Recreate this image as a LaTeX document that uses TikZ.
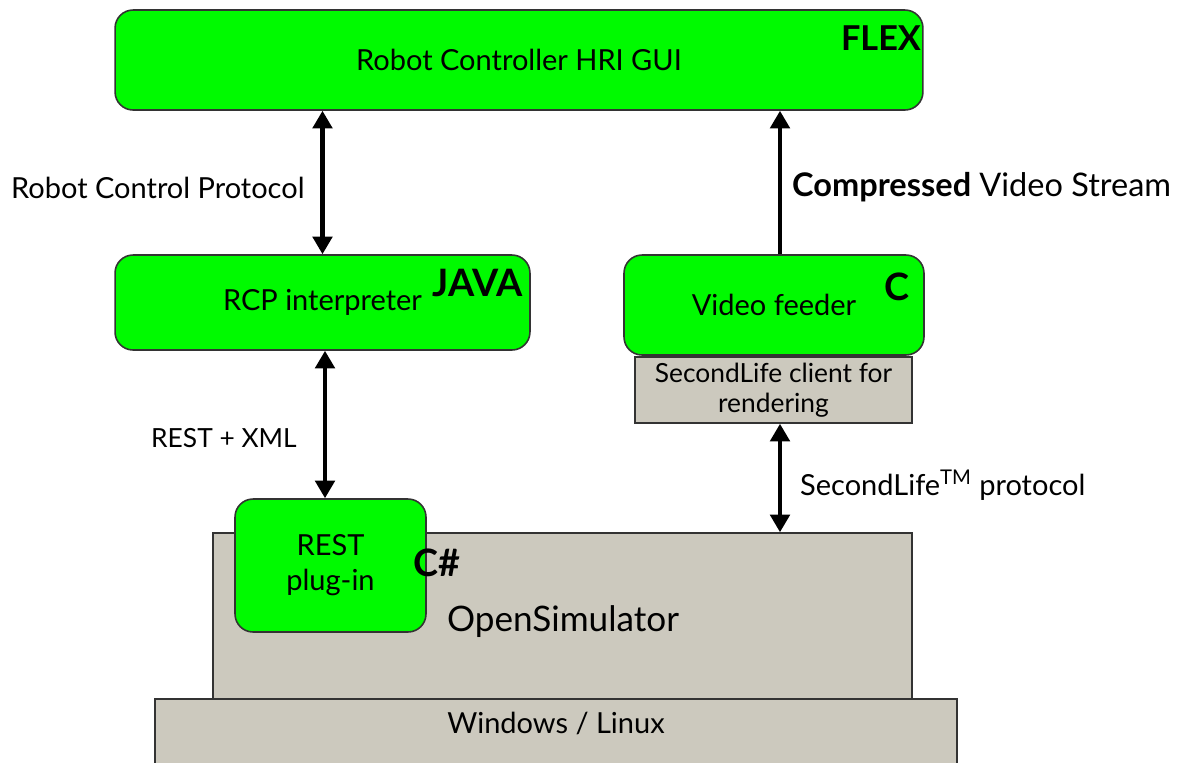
\documentclass[tikz,border=0pt]{standalone}
\usepackage{fontspec}
\setmainfont{Lato}
\usetikzlibrary{arrows.meta}

\definecolor{boxgreen}{RGB}{0,250,0}
\definecolor{boxgray}{RGB}{204,201,190}

\tikzset{
  greenbox/.style={draw=black!80, fill=boxgreen, rounded corners=0.36cm, line width=0.9pt, inner sep=0pt, align=center},
  graybox/.style={draw=black!80, fill=boxgray, line width=0.9pt, inner sep=0pt, align=center},
  langlabel/.style={font=\fontsize{21.5}{24}\selectfont\bfseries},
  flowlabel/.style={anchor=west},
  link/.style={line width=2.3pt, -{Triangle[width=11pt,length=10pt]}},
  duplex/.style={line width=2.3pt, {Triangle[width=11pt,length=10pt]}-{Triangle[width=11pt,length=10pt]}}
}

\begin{document}
\begin{tikzpicture}[x=0.02cm, y=-0.02cm, font=\fontsize{16.5}{20}\selectfont]

    \useasboundingbox (0,0) rectangle (1186,762);
    \clip (0,0) rectangle (1186,762);

    % platform layers
    \begin{scope}[]
    \node[graybox, minimum width=16.04cm, minimum height=1.84cm] (oswin) at (556,745) {};
    \node (oswinlabel) at (556,723) {Windows / Linux};

    \node[graybox, minimum width=13.98cm, minimum height=3.32cm] (opensim) at (562.5,616) {};
    \node[font=\fontsize{20}{24}\selectfont] (opensimlabel) at (563,622) {OpenSimulator};

    \node[greenbox, minimum width=3.82cm, minimum height=2.66cm] (restplug) at (330.5,565.5) {REST\\plug-in};
    \node[langlabel] (csharp) at (437,563) {C\#};
    \end{scope}


    % components
    \begin{scope}[]
    \node[greenbox, minimum width=16.16cm, minimum height=2cm] (gui) at (519,60) {Robot Controller HRI GUI};
    \node[langlabel, font=\fontsize{19.5}{22}\selectfont\bfseries] (flex) at (881,38) {FLEX};

    \node[greenbox, minimum width=8.3cm, minimum height=1.9cm] (rcp) at (322.5,302.5) {RCP interpreter};
    \node[langlabel] (java) at (478,283) {JAVA};

    \node[graybox, font=\fontsize{15}{17}\selectfont, minimum width=5.54cm, minimum height=1.32cm] (slclient) at (773.5,390) {SecondLife client for\\rendering};
    \node[greenbox, minimum width=6cm, minimum height=2cm] (video) at (774,305) {Video feeder};
    \node[langlabel] (clang) at (897,287) {C};
    \end{scope}


    % protocols
    \draw[duplex] (gui.south -| rcp) -- (rcp.north);
    \draw[link] ([xshift=0.12cm]video.north) -- ([xshift=0.12cm]video.north |- gui.south);
    \draw[duplex] ([xshift=0.05cm]rcp.south) -- ([xshift=0.05cm]rcp.south |- restplug.north);
    \draw[duplex] ([xshift=0.13cm]slclient.south) -- ([xshift=0.13cm]slclient.south |- opensim.north);

    \node[flowlabel, font=\fontsize{16.5}{20}\selectfont] (rcplabel) at (5,188) {Robot Control Protocol};
    \node[flowlabel, font=\fontsize{18.5}{20}\selectfont] (streamlabel) at (786,187) {\textbf{Compressed} Video Stream};
    \node[flowlabel, font=\fontsize{15}{18}\selectfont] (restlabel) at (145,438) {REST + XML};
    \node[flowlabel] (sllabel) at (794,485) {SecondLife\textsuperscript{TM} protocol};

\end{tikzpicture}
\end{document}
